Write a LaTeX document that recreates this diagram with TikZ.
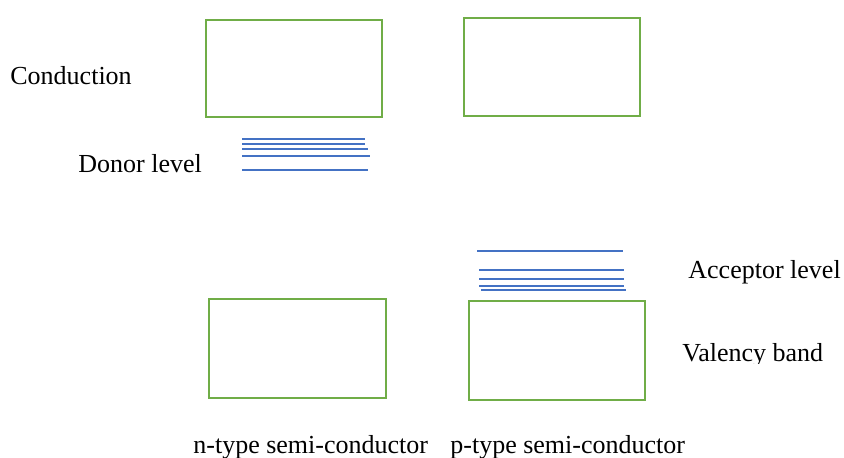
\documentclass[tikz,border=0pt]{standalone}
\usepackage{fontspec}
\setmainfont{Liberation Serif}
\definecolor{bandgreen}{HTML}{70AD47}
\definecolor{levelblue}{HTML}{4472C4}
\begin{document}
\begin{tikzpicture}[x=0.5pt,y=-0.5pt,
  band/.style={draw=bandgreen,line width=1.1pt},
  level/.style={draw=levelblue,line width=0.65pt},
  caption/.style={anchor=base west,inner sep=0pt,font=\fontsize{13}{15}\selectfont}]
\useasboundingbox (0,0) rectangle (844,458);

% energy bands
\draw[band] (206,20) rectangle (382,117);
\draw[band,line width=1.4pt] (464,18) rectangle (640,116);
\draw[band] (209,299) rectangle (386,398);
\draw[band] (469,301) rectangle (645,400);

% donor levels (n-type)
\draw[level] (242,139) -- (365,139);
\draw[level] (242,144) -- (365,144);
\draw[level] (242,149) -- (368,149);
\draw[level] (242,156) -- (370,156);
\draw[level] (242,170) -- (368,170);

% acceptor levels (p-type)
\draw[level] (477,251) -- (623,251);
\draw[level] (479,270) -- (624,270);
\draw[level] (479,279) -- (624,279);
\draw[level] (479,286) -- (624,286);
\draw[level] (481,290) -- (626,290);

% labels
\node[caption] (cond) at (10,85) {Conduction};
\node[caption] (donor) at (78,173) {Donor level};
\node[caption] (acc) at (688,279) {Acceptor level};
\begin{scope}
  \clip (660,320) rectangle (844,364);
  \node[caption] (val) at (682,362) {Valency band};
\end{scope}
\node[caption] (ntype) at (193,453) {n-type semi-conductor};
\node[caption] (ptype) at (450,453) {p-type semi-conductor};
\end{tikzpicture}
\end{document}
